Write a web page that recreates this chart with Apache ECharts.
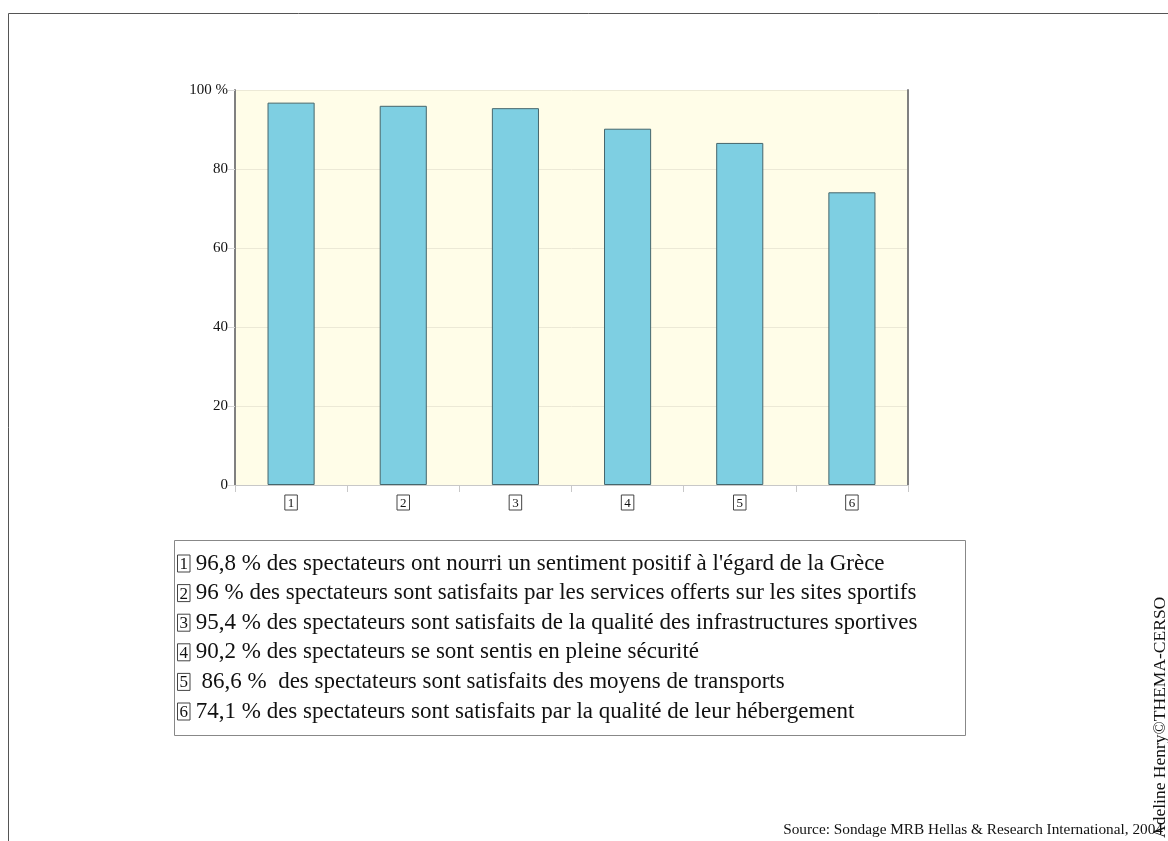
<!DOCTYPE html>
<html>
<head>
<meta charset="utf-8">
<script src="https://cdn.jsdelivr.net/npm/echarts@6/dist/echarts.min.js"></script>
<style>
  html, body { margin: 0; padding: 0; background: #fff; }
  #chart { width: 1168px; height: 841px; }
</style>
</head>
<body>
<div id="chart"></div>
<script>
// donnees du sondage
const categories = ["1", "2", "3", "4", "5", "6"];
const values = [96.8, 96, 95.4, 90.2, 86.6, 74.1];
const legendTexts = [
  "96,8 % des spectateurs ont nourri un sentiment positif à l'égard de la Grèce",
  "96 % des spectateurs sont satisfaits par les services offerts sur les sites sportifs",
  "95,4 % des spectateurs sont satisfaits de la qualité des infrastructures sportives",
  "90,2 % des spectateurs se sont sentis en pleine sécurité",
  " 86,6 %  des spectateurs sont satisfaits des moyens de transports",
  "74,1 % des spectateurs sont satisfaits par la qualité de leur hébergement"
];
const sourceText = "Source: Sondage MRB Hellas & Research International, 2004";
const creditText = "Adeline Henry©THEMA-CERSO";

const serif = "'Liberation Serif', 'DejaVu Serif', serif";
const chart = echarts.init(document.getElementById("chart"));

// legende en bas (numero encadre + texte)
const legendItems = legendTexts.map((t, i) => ({
  type: "text",
  left: 177,
  top: 552 + i * 29.6,
  style: {
    text: "{n|" + categories[i] + "} " + t,
    font: "23px " + serif,
    fill: "#111",
    rich: {
      n: {
        fontFamily: serif,
        fontSize: 17,
        borderColor: "#444",
        borderWidth: 1,
        padding: [1, 2, -1, 2],
        lineHeight: 17
      }
    }
  }
}));

const option = {
  backgroundColor: "#fff",
  animation: false,
  grid: {
    left: 235,
    right: 260,
    top: 90,
    bottom: 356,
    show: true,
    backgroundColor: "#fffde8",
    borderWidth: 0
  },
  xAxis: {
    type: "category",
    data: categories,
    axisLine: { lineStyle: { color: "#c8c8c8", width: 1 } },
    axisTick: { show: true, length: 7, lineStyle: { color: "#c8c8c8" } },
    axisLabel: {
      margin: 10,
      formatter: v => "{b|" + v + "}",
      rich: {
        b: {
          fontFamily: serif,
          fontSize: 13,
          color: "#111",
          borderColor: "#444",
          borderWidth: 1,
          padding: [2, 3, 0, 3]
        }
      }
    }
  },
  yAxis: [
    {
      type: "value",
      min: 0,
      max: 100,
      interval: 20,
      axisLine: { show: true, lineStyle: { color: "#808080", width: 2 } },
      axisTick: { show: true, length: 7, lineStyle: { color: "#d8d8d8" } },
      axisLabel: {
        margin: 7,
        fontFamily: serif,
        fontSize: 15,
        color: "#111",
        formatter: v => (v === 100 ? "100 %" : String(v))
      },
      splitLine: { lineStyle: { color: "#ece9d6", width: 1 } }
    },
    {
      type: "value",
      position: "right",
      min: 0,
      max: 100,
      interval: 20,
      axisLine: { show: true, lineStyle: { color: "#808080", width: 2 } },
      axisTick: { show: false },
      axisLabel: { show: false },
      splitLine: { show: false }
    }
  ],
  series: [
    {
      type: "bar",
      data: values,
      barWidth: "42%",
      itemStyle: {
        color: "#7ecfe2",
        borderColor: "#46666c",
        borderWidth: 1
      }
    }
  ],
  graphic: [
    // cadre exterieur
    {
      type: "polyline",
      shape: { points: [[8.5, 841], [8.5, 13.5], [1168, 13.5]] },
      style: { stroke: "#555", lineWidth: 1, fill: null }
    },
    // boite de la legende
    {
      type: "rect",
      shape: { x: 174.5, y: 540.5, width: 791, height: 195 },
      style: { stroke: "#888", lineWidth: 1, fill: null }
    },
    ...legendItems,
    {
      type: "text",
      right: 5,
      top: 822,
      style: { text: sourceText, font: "15.3px " + serif, fill: "#111" }
    },
    {
      type: "text",
      x: 1151,
      y: 838,
      rotation: Math.PI / 2,
      style: { text: creditText, font: "17.5px " + serif, fill: "#111" }
    }
  ]
};

chart.setOption(option);
</script>
</body>
</html>
